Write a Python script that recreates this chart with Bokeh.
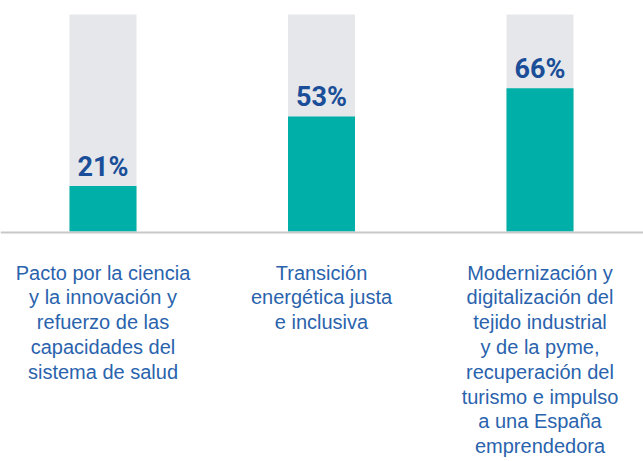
from bokeh.plotting import figure
from bokeh.models import ColumnDataSource, Span
from bokeh.core.properties import value
from bokeh.embed import file_html
from bokeh.resources import INLINE

# ---- data ----
categories = [
    "Pacto por la ciencia\ny la innovación y\nrefuerzo de las\ncapacidades del\nsistema de salud",
    "Transición\nenergética justa\ne inclusiva",
    "Modernización y\ndigitalización del\ntejido industrial\ny de la pyme,\nrecuperación del\nturismo e impulso\na una España\nemprendedora",
]
values = [21, 53, 66]
total = [100, 100, 100]
value_labels = ["21%", "53%", "66%"]

# ---- layout constants (pixels) ----
W, H = 643, 461
PPU_Y = 2.17            # pixels per percentage point
BASE_PX = 231           # baseline distance from top of frame
STEP_X = 218.5          # pixels between category centres
FIRST_X = 102.5         # first centre from left edge of frame
BAR_W_PX = 67
LABEL_GAP_PX = 19
LINE0_PX = 41           # first label baseline below the bar baseline
LINE_PITCH_PX = 24.8

x_start = -FIRST_X / STEP_X
x_end = x_start + W / STEP_X
y_end = BASE_PX / PPU_Y
y_start = -(H - BASE_PX) / PPU_Y

p = figure(width=W, height=H, x_range=(x_start, x_end), y_range=(y_start, y_end),
           output_backend="svg", toolbar_location=None, min_border=0)
p.axis.visible = False
p.grid.visible = False
p.outline_line_color = None
p.background_fill_color = "white"
p.border_fill_color = "white"

xs = list(range(len(values)))
src = ColumnDataSource(dict(x=xs, total=total, v=values,
                            lab=value_labels,
                            ly=[v + LABEL_GAP_PX / PPU_Y for v in values]))

p.vbar(x="x", top="total", bottom=0, width=BAR_W_PX / STEP_X, source=src,
       fill_color="#e6e7eb", line_color=None)
p.vbar(x="x", top="v", bottom=0, width=BAR_W_PX / STEP_X, source=src,
       fill_color="#00b0a8", line_color=None)

p.add_layout(Span(location=-1 / PPU_Y, dimension="width",
                  line_color="#c8c8c8", line_width=2))

p.text(x="x", y="ly", text="lab", source=src,
       text_font=value("Roboto"), text_font_style="bold",
       text_font_size="27px", text_color="#1a4e98",
       text_align="center", text_baseline="alphabetic")

lx, lyv, lt = [], [], []
for i, cat in enumerate(categories):
    for j, line in enumerate(cat.split("\n")):
        lx.append(i)
        lyv.append(-(LINE0_PX + j * LINE_PITCH_PX) / PPU_Y)
        lt.append(line)
lsrc = ColumnDataSource(dict(x=lx, y=lyv, t=lt))
p.text(x="x", y="y", text="t", source=lsrc,
       text_font=value("Liberation Sans"), text_font_size="20px",
       text_color="#2a63ad", text_align="center", text_baseline="alphabetic")

open("out.html", "w").write(file_html(p, INLINE))
